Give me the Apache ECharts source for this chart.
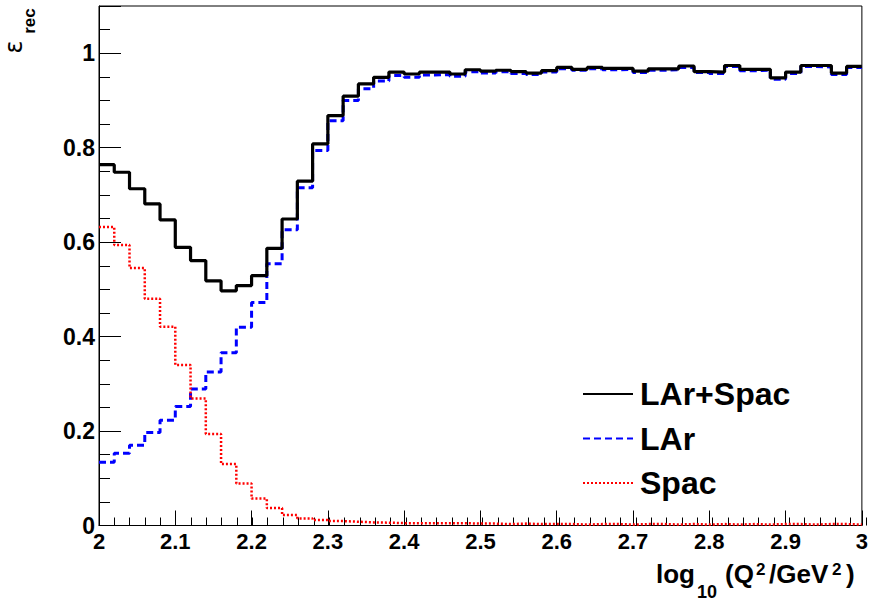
<!DOCTYPE html>
<html>
<head>
<meta charset="utf-8">
<script src="https://cdn.jsdelivr.net/npm/echarts@6/dist/echarts.min.js"></script>
<style>
html,body{margin:0;padding:0;background:#fff;}
#chart{width:871px;height:601px;}
</style>
</head>
<body>
<div id="chart"></div>
<script>
// Bin low edges (bin width 0.02), x upper end 3.0
const binLow = [2.00,2.02,2.04,2.06,2.08,2.10,2.12,2.14,2.16,2.18,
                2.20,2.22,2.24,2.26,2.28,2.30,2.32,2.34,2.36,2.38,
                2.40,2.42,2.44,2.46,2.48,2.50,2.52,2.54,2.56,2.58,
                2.60,2.62,2.64,2.66,2.68,2.70,2.72,2.74,2.76,2.78,
                2.80,2.82,2.84,2.86,2.88,2.90,2.92,2.94,2.96,2.98];
const xEnd = 3.0;

// LAr+Spac
const larSpac = [0.764,0.748,0.713,0.681,0.647,0.589,0.561,0.518,0.497,0.508,
                 0.529,0.587,0.649,0.729,0.808,0.868,0.909,0.935,0.949,0.960,
                 0.956,0.960,0.960,0.956,0.965,0.962,0.964,0.961,0.958,0.963,
                 0.970,0.966,0.970,0.968,0.968,0.962,0.967,0.967,0.973,0.961,
                 0.960,0.974,0.966,0.966,0.948,0.960,0.974,0.974,0.958,0.972];
// LAr
const lar = [0.134,0.153,0.170,0.197,0.223,0.252,0.289,0.325,0.366,0.420,
             0.472,0.554,0.626,0.715,0.794,0.857,0.900,0.925,0.941,0.953,
             0.949,0.954,0.955,0.951,0.961,0.958,0.961,0.957,0.955,0.960,
             0.967,0.964,0.967,0.965,0.966,0.959,0.964,0.965,0.970,0.959,
             0.957,0.972,0.963,0.964,0.945,0.957,0.972,0.971,0.955,0.970];
// Spac
const spac = [0.632,0.594,0.545,0.480,0.421,0.340,0.269,0.194,0.130,0.089,
              0.057,0.037,0.022,0.015,0.0115,0.0093,0.008,0.0066,0.006,0.005,
              0.005,0.005,0.005,0.005,0.004,0.004,0.003,0.004,0.003,0.003,
              0.003,0.002,0.003,0.003,0.002,0.003,0.003,0.002,0.003,0.002,
              0.003,0.002,0.003,0.002,0.003,0.003,0.002,0.003,0.003,0.002];

const seriesNames = ['LAr+Spac','LAr','Spac'];

function histData(vals){
  const d = binLow.map((x,i)=>[x, vals[i]]);
  d.push([xEnd, vals[vals.length-1]]);
  return d;
}

const chart = echarts.init(document.getElementById('chart'), null, {renderer:'svg'});
const FONT = 'Liberation Sans';
const rect = {left:99, right:5, top:6, bottom:75.5};

const option = {
  animation:false,
  backgroundColor:'#fff',
  grid:[
    Object.assign({show:true, borderColor:'#000', borderWidth:1, backgroundColor:'transparent'}, rect),
    Object.assign({show:false}, rect)
  ],
  xAxis:[
    {type:'value', gridIndex:0, min:2, max:3, interval:0.1,
     axisLine:{show:true, lineStyle:{color:'#000', width:1}},
     axisTick:{show:true, inside:true, length:15, lineStyle:{color:'#000', width:1}},
     axisLabel:{show:true, color:'#000', fontFamily:FONT, fontWeight:'bold', fontSize:22, margin:5},
     splitLine:{show:false}},
    {type:'value', gridIndex:1, min:2, max:3, interval:0.02,
     axisLine:{show:false},
     axisTick:{show:true, inside:true, length:8, lineStyle:{color:'#000', width:1}},
     axisLabel:{show:false}, splitLine:{show:false}}
  ],
  yAxis:[
    {type:'value', gridIndex:0, min:0, max:1.1, interval:0.2,
     axisLine:{show:true, lineStyle:{color:'#000', width:1}},
     axisTick:{show:true, inside:true, length:22, lineStyle:{color:'#000', width:1}},
     axisLabel:{show:true, color:'#000', fontFamily:FONT, fontWeight:'bold', fontSize:23, margin:4,
       formatter:function(v){ return v > 1.01 ? '' : String(Math.round(v*10)/10); }},
     splitLine:{show:false}},
    {type:'value', gridIndex:1, min:0, max:1.1, interval:0.05,
     axisLine:{show:false},
     axisTick:{show:true, inside:true, length:11, lineStyle:{color:'#000', width:1}},
     axisLabel:{show:false}, splitLine:{show:false}}
  ],
  legend:{
    orient:'vertical', left:582, top:378, padding:0, itemWidth:50, itemHeight:14, itemGap:12.5,
    data:seriesNames,
    itemStyle:{opacity:0},
    textStyle:{color:'#000', fontFamily:FONT, fontWeight:'bold', fontSize:32, lineHeight:32, padding:[0,0,0,2]}
  },
  series:[
    {name:seriesNames[1], type:'line', xAxisIndex:0, yAxisIndex:0, step:'end', showSymbol:false, symbol:'none',
     data:histData(lar), z:2,
     lineStyle:{color:'#0000ff', width:3, type:[7,4]}, itemStyle:{color:'#0000ff'}},
    {name:seriesNames[2], type:'line', xAxisIndex:0, yAxisIndex:0, step:'end', showSymbol:false, symbol:'none',
     data:histData(spac), z:2,
     lineStyle:{color:'#ff0000', width:2.5, type:[2,2]}, itemStyle:{color:'#ff0000'}},
    {name:seriesNames[0], type:'line', xAxisIndex:0, yAxisIndex:0, step:'end', showSymbol:false, symbol:'none',
     data:histData(larSpac), z:3,
     lineStyle:{color:'#000000', width:3.2, type:'solid'}, itemStyle:{color:'#000000'}}
  ],
  graphic:[
    {type:'text', x:14, y:47, rotation:Math.PI/2,
     style:{text:'ε', font:'24px "DejaVu Sans"', lineHeight:18, fill:'#000', align:'center', verticalAlign:'middle'}},
    {type:'text', x:29, y:21, rotation:Math.PI/2,
     style:{text:'rec', font:'bold 17px "Liberation Sans"', fill:'#000', align:'center', verticalAlign:'middle'}},
    {type:'text', x:656, y:573.5,
     style:{text:'log', font:'bold 26px "Liberation Sans"', fill:'#000', align:'left', verticalAlign:'middle'}},
    {type:'text', x:697, y:592,
     style:{text:'10', font:'bold 18px "Liberation Sans"', fill:'#000', align:'left', verticalAlign:'middle'}},
    {type:'text', x:725, y:573.5,
     style:{text:'(Q', font:'bold 26px "Liberation Sans"', fill:'#000', align:'left', verticalAlign:'middle'}},
    {type:'text', x:756, y:569,
     style:{text:'2', font:'bold 17px "Liberation Sans"', fill:'#000', align:'left', verticalAlign:'middle'}},
    {type:'text', x:769, y:573.5,
     style:{text:'/GeV', font:'bold 26px "Liberation Sans"', fill:'#000', align:'left', verticalAlign:'middle'}},
    {type:'text', x:832, y:569,
     style:{text:'2', font:'bold 17px "Liberation Sans"', fill:'#000', align:'left', verticalAlign:'middle'}},
    {type:'text', x:846, y:573.5,
     style:{text:')', font:'bold 26px "Liberation Sans"', fill:'#000', align:'left', verticalAlign:'middle'}}
  ]
};
chart.setOption(option);
</script>
</body>
</html>
